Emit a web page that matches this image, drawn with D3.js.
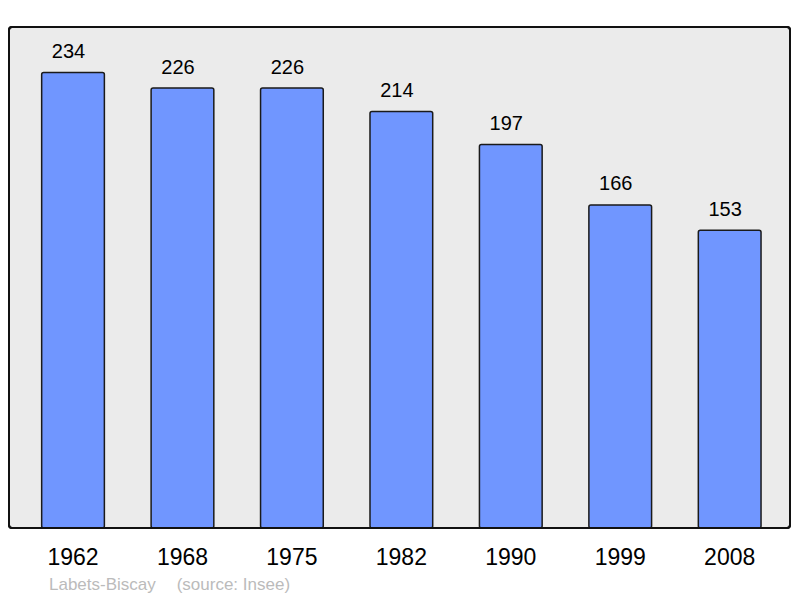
<!DOCTYPE html>
<html>
<head>
<meta charset="utf-8">
<script src="https://cdn.jsdelivr.net/npm/d3@7"></script>
<style>
body{margin:0;background:#fff;}
svg{display:block;font-family:"Liberation Sans",Arial,sans-serif;}
</style>
</head>
<body>
<svg id="chart" width="800" height="598"></svg>
<script>
const years = ["1962","1968","1975","1982","1990","1999","2008"];
const population = [234,226,226,214,197,166,153];
const commune = "Labets-Biscay";
const source = "(source: Insee)";

const svg = d3.select("#chart");
const plot = {left:9, top:27, right:790, bottom:528};

const x = d3.scaleBand().domain(years).range([18.3, 784.4]).paddingInner(0.427).paddingOuter(0.2135);
const y = d3.scaleLinear().domain([0, d3.max(population)*1.1]).range([plot.bottom, plot.top]);

svg.append("rect")
  .attr("x", plot.left).attr("y", plot.top)
  .attr("width", plot.right-plot.left).attr("height", plot.bottom-plot.top)
  .attr("rx", 3)
  .attr("fill", "#ebebeb").attr("stroke", "#111").attr("stroke-width", 2);

const data = years.map((yr,i)=>({year:yr, value:population[i]}));

svg.selectAll("rect.bar").data(data).enter().append("rect")
  .attr("class","bar")
  .attr("x", d=>x(d.year))
  .attr("y", d=>y(d.value))
  .attr("width", x.bandwidth())
  .attr("height", d=>plot.bottom - y(d.value))
  .attr("rx", 2)
  .attr("fill", "#7096ff").attr("stroke", "#1a1a1a").attr("stroke-width", 1.5);

svg.selectAll("text.val").data(data).enter().append("text")
  .attr("class","val")
  .attr("x", d=>x(d.year)+x.bandwidth()/2 - 4.5)
  .attr("y", d=>y(d.value) - 14.5)
  .attr("text-anchor","middle")
  .attr("font-size", 20)
  .attr("fill","#000")
  .text(d=>d.value);

// redraw frame border bottom on top of bars
svg.append("rect")
  .attr("x", plot.left).attr("y", plot.top)
  .attr("width", plot.right-plot.left).attr("height", plot.bottom-plot.top)
  .attr("rx", 3)
  .attr("fill", "none").attr("stroke", "#111").attr("stroke-width", 2);

const xAxis = d3.axisBottom(x).tickSize(0).tickPadding(0);
const ax = svg.append("g").attr("transform", `translate(0,${plot.bottom})`).call(xAxis);
ax.select(".domain").remove();
ax.selectAll("text")
  .attr("y", 37).attr("dy", 0)
  .attr("font-size", 23)
  .attr("font-family", "Liberation Sans, Arial, sans-serif")
  .attr("fill", "#000");

svg.append("text").attr("x", 49).attr("y", 590)
  .attr("font-size", 17).attr("fill", "#bbbbbb").text(commune);
svg.append("text").attr("x", 176.7).attr("y", 590)
  .attr("font-size", 17).attr("fill", "#bbbbbb").text(source);
</script>
</body>
</html>
